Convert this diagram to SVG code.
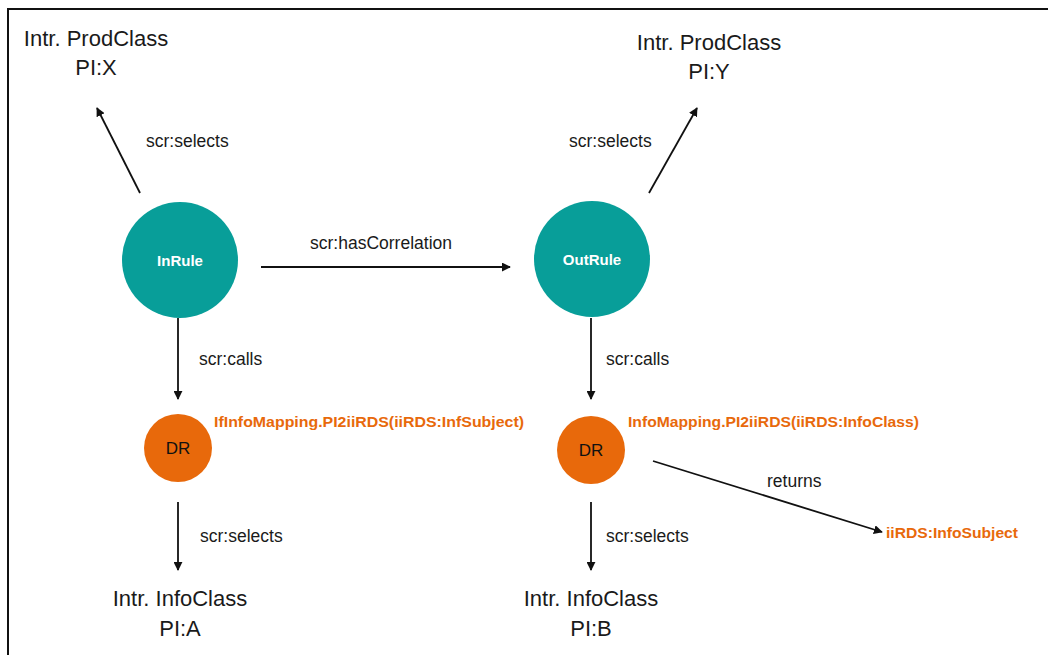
<svg xmlns="http://www.w3.org/2000/svg" width="1048" height="655" viewBox="0 0 1048 655">
  <style>
    .lbl { font-family: "Liberation Sans", Arial, sans-serif; fill: #1a1a1a; }
    .cls { font-size: 22px; text-anchor: middle; }
    .edge { font-size: 17.5px; }
    .rule { fill: #089e99; }
    .rule-t { font-family: "Liberation Sans", Arial, sans-serif; font-weight: bold; font-size: 15px; fill: #ffffff; text-anchor: middle; }
    .dr { fill: #e8690b; }
    .dr-t { font-family: "Liberation Sans", Arial, sans-serif; font-size: 17px; fill: #111111; text-anchor: middle; }
    .fn { font-family: "Liberation Sans", Arial, sans-serif; font-weight: bold; font-size: 15.5px; fill: #e8690b; }
    .conn { stroke: #111111; stroke-width: 1.8; fill: none; marker-end: url(#arrow); }
  </style>
  <defs>
    <marker id="arrow" viewBox="0 0 10 10" refX="9" refY="5" markerWidth="5" markerHeight="5" markerUnits="strokeWidth" orient="auto">
      <path d="M0,0 L10,5 L0,10 z" fill="#111111"/>
    </marker>
  </defs>

  <rect width="1048" height="655" fill="#ffffff"/>
  <!-- outer frame (right and bottom edges fall outside the canvas) -->
  <rect x="8" y="9" width="1100" height="700" fill="none" stroke="#111111" stroke-width="2"/>

  <!-- connectors -->
  <g id="connectors">
    <line class="conn" x1="140" y1="193" x2="97" y2="108"/>
    <line class="conn" x1="649" y1="193" x2="697" y2="108"/>
    <line class="conn" x1="261" y1="267" x2="510" y2="267"/>
    <line class="conn" x1="178" y1="318" x2="178" y2="399"/>
    <line class="conn" x1="591" y1="318" x2="591" y2="399"/>
    <line class="conn" x1="178" y1="502" x2="178" y2="570"/>
    <line class="conn" x1="591" y1="502" x2="591" y2="570"/>
    <line class="conn" x1="653" y1="461" x2="882" y2="532"/>
    <text class="lbl edge" x="146" y="147">scr:selects</text>
    <text class="lbl edge" x="569" y="147">scr:selects</text>
    <text class="lbl edge" x="310" y="249">scr:hasCorrelation</text>
    <text class="lbl edge" x="199" y="365">scr:calls</text>
    <text class="lbl edge" x="606" y="365">scr:calls</text>
    <text class="lbl edge" x="200" y="542">scr:selects</text>
    <text class="lbl edge" x="606" y="542">scr:selects</text>
    <text class="lbl edge" x="767" y="487">returns</text>
  </g>

  <g id="prodclass-x">
    <text class="lbl cls" x="96" y="46">Intr. ProdClass</text>
    <text class="lbl cls" x="96" y="75">PI:X</text>
  </g>
  <g id="prodclass-y">
    <text class="lbl cls" x="709" y="50">Intr. ProdClass</text>
    <text class="lbl cls" x="709" y="79">PI:Y</text>
  </g>

  <g id="inrule">
    <circle class="rule" cx="180" cy="260" r="58"/>
    <text class="rule-t" x="180" y="266">InRule</text>
  </g>
  <g id="outrule">
    <circle class="rule" cx="592" cy="259" r="58"/>
    <text class="rule-t" x="592" y="265" font-size="15.5">OutRule</text>
  </g>

  <g id="dr-in">
    <circle class="dr" cx="178" cy="448" r="34"/>
    <text class="dr-t" x="178" y="454">DR</text>
    <text class="fn" x="214" y="427" textLength="310" lengthAdjust="spacingAndGlyphs">IfInfoMapping.PI2iiRDS(iiRDS:InfSubject)</text>
  </g>
  <g id="dr-out">
    <circle class="dr" cx="591" cy="450" r="34"/>
    <text class="dr-t" x="591" y="456">DR</text>
    <text class="fn" x="628" y="427" textLength="291" lengthAdjust="spacingAndGlyphs">InfoMapping.PI2iiRDS(iiRDS:InfoClass)</text>
  </g>

  <g id="infosubject">
    <text class="fn" x="886" y="538" textLength="132" lengthAdjust="spacingAndGlyphs">iiRDS:InfoSubject</text>
  </g>

  <g id="infoclass-a">
    <text class="lbl cls" x="180" y="606">Intr. InfoClass</text>
    <text class="lbl cls" x="180" y="636">PI:A</text>
  </g>
  <g id="infoclass-b">
    <text class="lbl cls" x="591" y="606">Intr. InfoClass</text>
    <text class="lbl cls" x="591" y="636">PI:B</text>
  </g>
</svg>
